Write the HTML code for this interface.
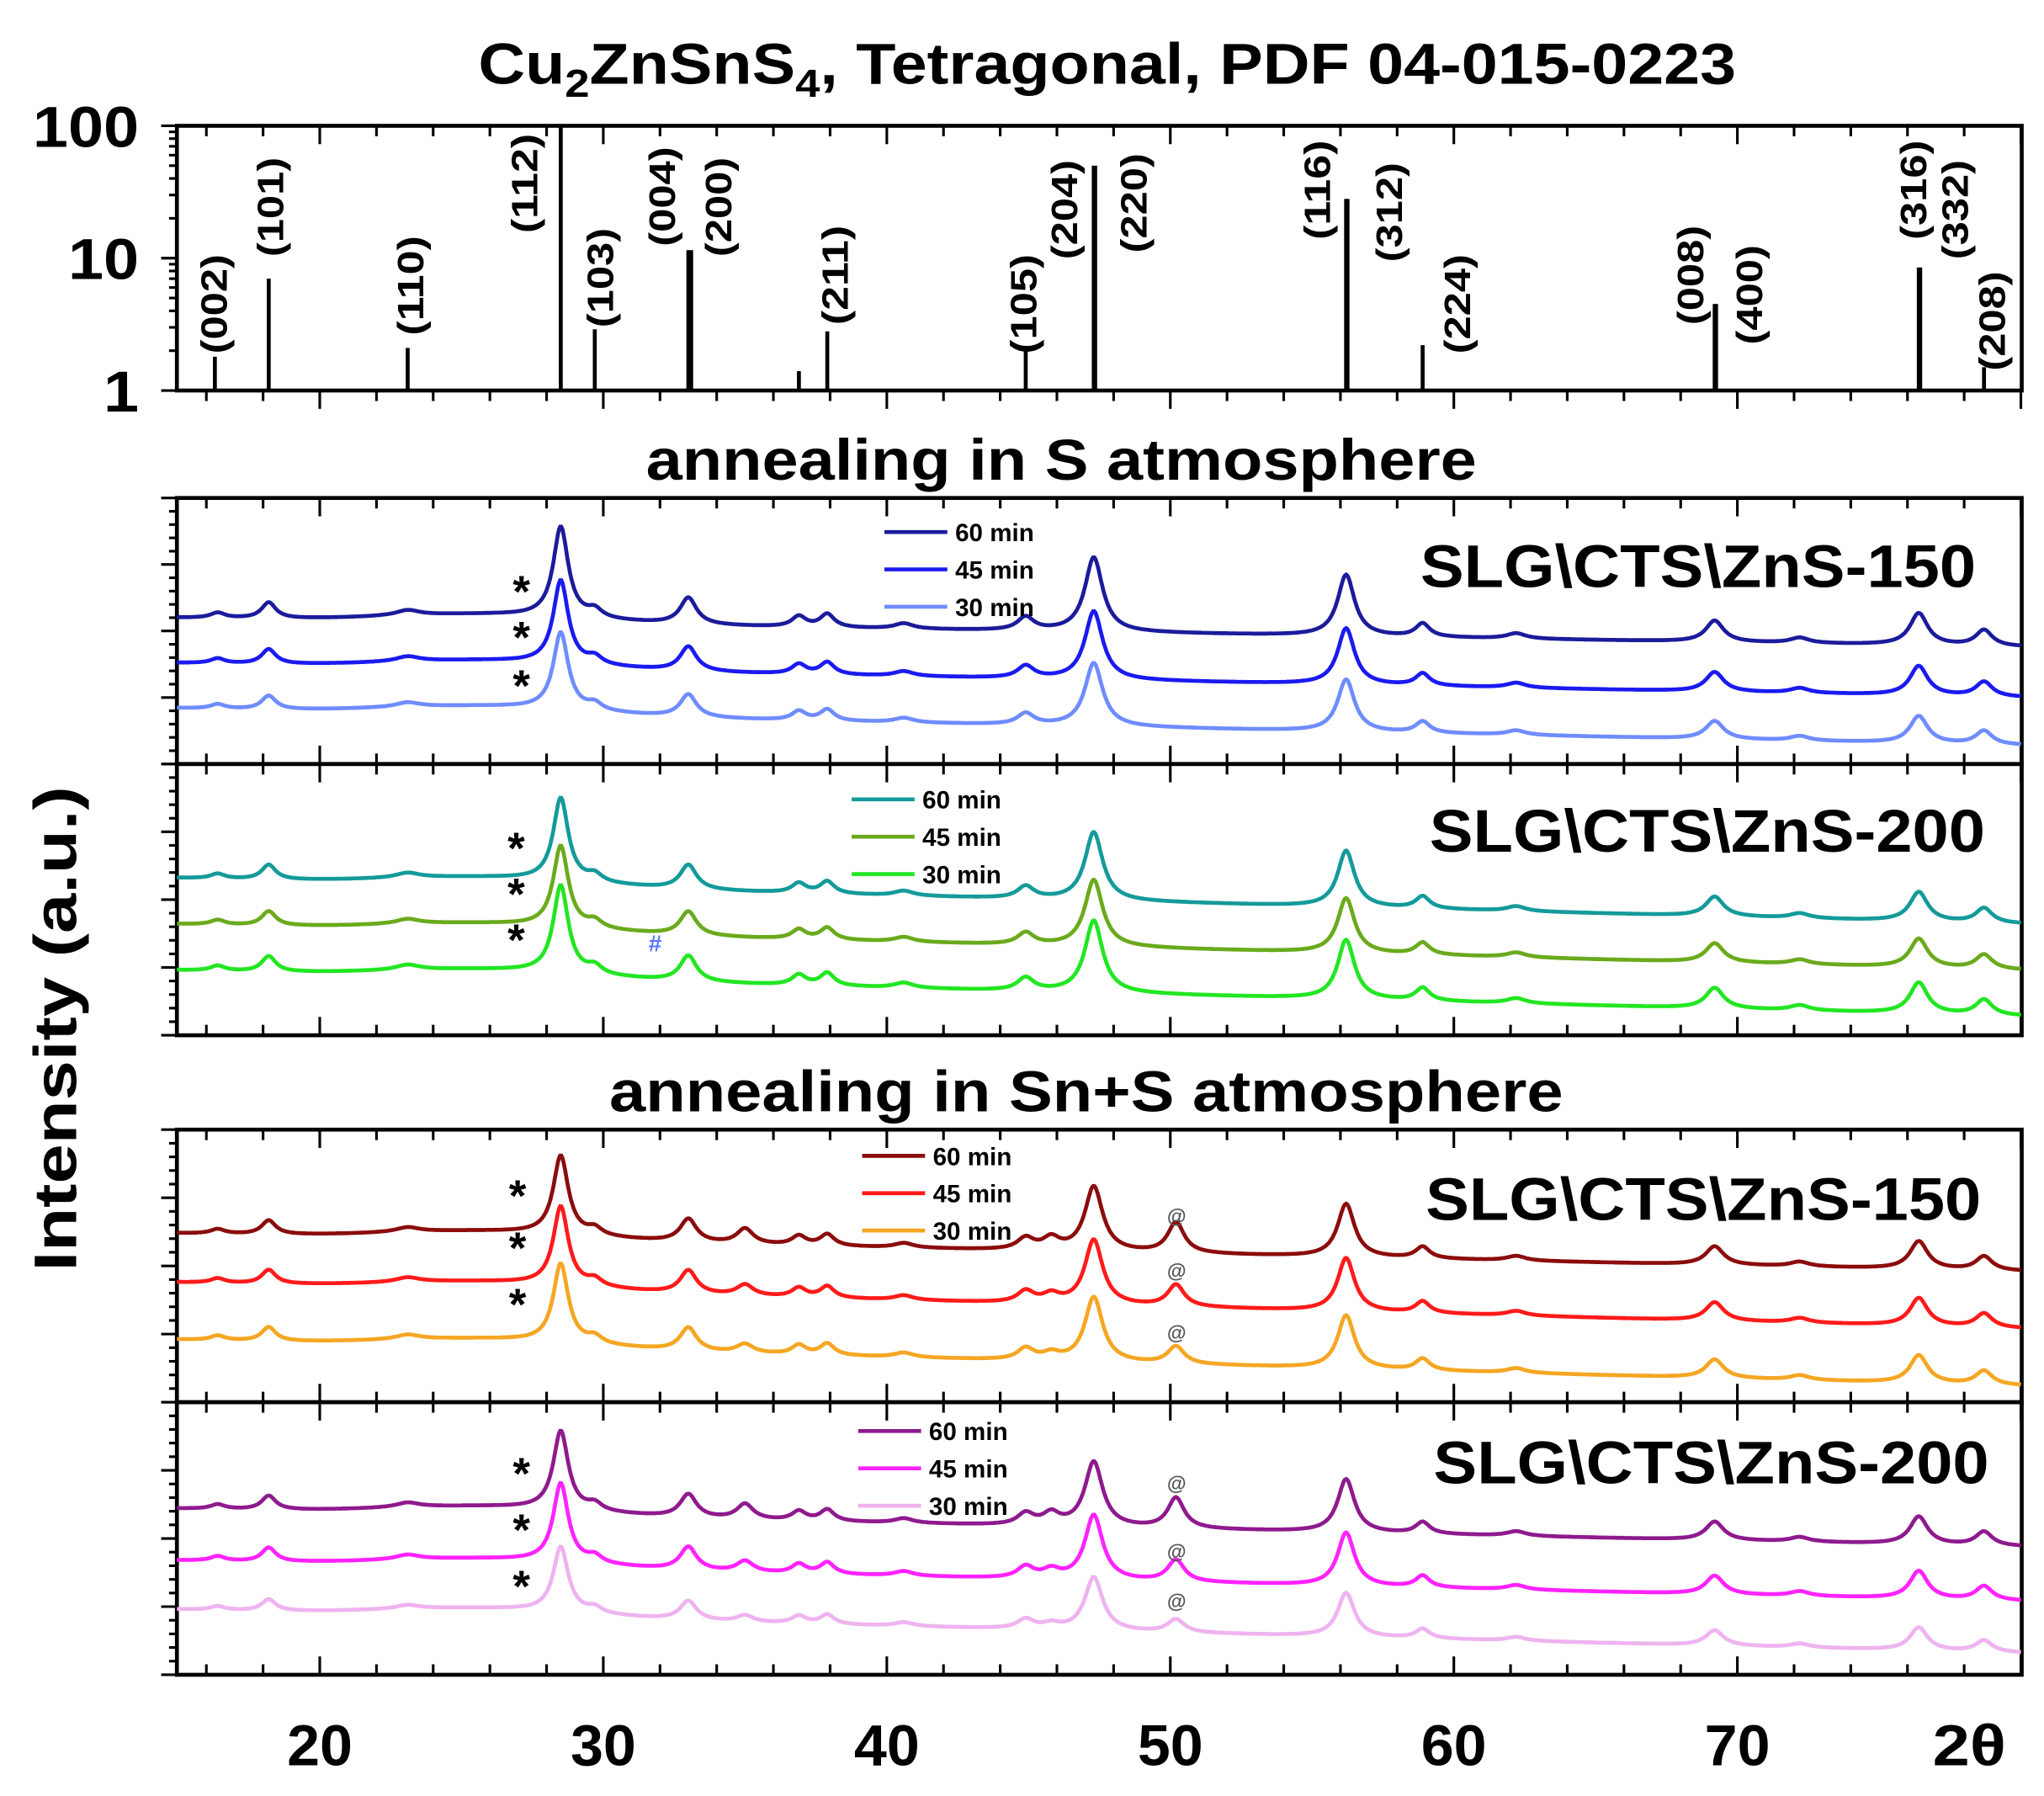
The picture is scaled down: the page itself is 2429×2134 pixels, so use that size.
<!DOCTYPE html>
<html><head><meta charset="utf-8"><style>
html,body{margin:0;padding:0;background:#fff;}
svg{display:block;font-family:"Liberation Sans",sans-serif;font-weight:bold;}
</style></head><body>
<svg id="chart" width="2429" height="2134" viewBox="0 0 1560 1370.5" preserveAspectRatio="none" xmlns="http://www.w3.org/2000/svg">
<rect x="0" y="0" width="1560" height="1371" fill="#fff"/>
<text x="845" y="64" font-size="44" text-anchor="middle" textLength="960" lengthAdjust="spacingAndGlyphs">Cu<tspan font-size="30" dy="10">2</tspan><tspan dy="-10">ZnSnS</tspan><tspan font-size="30" dy="10">4</tspan><tspan dy="-10">, Tetragonal, PDF 04-015-0223</tspan></text>
<text x="810" y="366" font-size="44" text-anchor="middle" textLength="634" lengthAdjust="spacingAndGlyphs">annealing in S atmosphere</text>
<text x="829" y="848" font-size="44" text-anchor="middle" textLength="728" lengthAdjust="spacingAndGlyphs">annealing in Sn+S atmosphere</text>
<text transform="translate(58,785) rotate(-90)" font-size="46" text-anchor="middle" textLength="370" lengthAdjust="spacingAndGlyphs">Intensity (a.u.)</text>
<g id="layer"></g>
</svg>
<script>
// ---- data ----
const xTicks = [20,30,40,50,60,70];
const xTickLabels = ["20","30","40","50","60","70"];
const refHkl = ["(002)","(101)","(110)","(112)","(103)","(004)","(200)","","(211)","(105)","(204)","(220)","(116)","(312)","(224)","(008)","(400)","(316)","(332)","(208)"];
const refPos = [16.3,18.2,23.1,28.5,29.7,33.0,33.1,36.9,37.9,44.9,47.3,47.35,56.2,56.25,58.9,69.2,69.25,76.4,76.45,78.7];
const refInt = [1.8,7,2.1,100,2.9,11.5,11.5,1.4,2.8,2.1,50,50,28,28,2.2,4.5,4.5,8.5,8.5,1.5];
const refLogTicks = [1,10,100];
// common CZTS peaks (2theta) and relative heights
const peakPos = [16.4,18.2,23.1,28.5,29.7,33.0,36.9,37.9,40.6,44.9,47.3,56.2,58.9,62.2,69.2,72.2,76.4,78.7];
const peakH   = [2,6,2,34,3,10,4,5,2,5,28,23,5,2,8,2,12,6];
const peakW   = [0.3,0.3,0.5,0.32,0.3,0.35,0.3,0.3,0.4,0.35,0.38,0.36,0.3,0.4,0.38,0.4,0.38,0.35];
// extra Sn+S phase peaks (SnS2 / @)
const extraPos = [35.0,45.8,50.2];
const extraH = [4,3,8];
const seriesNames = ["60 min","45 min","30 min"];
// per panel: baseline start, baseline end, peak scale, extra scale
const p1Start=[55,38,21], p1End=[44,25,7], p1Scale=[1.0,0.92,0.85], p1Extra=[0,0,0];
const p2Start=[58,41,24], p2End=[41,24,7], p2Scale=[0.9,0.88,0.95], p2Extra=[0,0,0];
const p3Start=[62,44,23], p3End=[48,27,6], p3Scale=[0.85,0.85,0.85], p3Extra=[1.4,1.0,0.8];
const p4Start=[61,42,24], p4End=[47,27,8], p4Scale=[0.85,0.85,0.7], p4Extra=[1.4,1.0,0.6];

// ---- layout ----
const L=135,R=1543;
const X0=14.96,X1=80.03;
const sx=v=>L+(v-X0)/(X1-X0)*(R-L);
const NS="http://www.w3.org/2000/svg";
const layer=document.getElementById('layer');
function mk(tag,attrs,parent){const e=document.createElementNS(NS,tag);for(const k in attrs)e.setAttribute(k,attrs[k]);(parent||layer).appendChild(e);return e;}

function xTicksDraw(top,bottom,g,outward){
  for(let v=16;v<=80;v+=2){
    const major=v%10===0;const x=sx(v);if(x>R)continue;
    const len=major?14:8;
    const a=mk('line',{x1:x,x2:x,y1:bottom,y2:outward?bottom+len:bottom-len,stroke:'#000','stroke-width':2},g);
    
    const b=mk('line',{x1:x,x2:x,y1:top,y2:top+len,stroke:'#000','stroke-width':2},g);
    
  }
}
function frame(top,bottom,name,outward){
  const g=mk('g',{});
  
  
  const r=mk('rect',{x:L,y:top,width:R-L,height:bottom-top,fill:'none',stroke:'#000','stroke-width':3},g);
  
  xTicksDraw(top,bottom,g,outward);
  return g;
}

// ---- reference panel ----
const rT=96,rB=298;
const sy=v=>rB-(Math.log10(v)/2)*(rB-rT);
const rg=frame(rT,rB,'reference-panel',true);
for(let d=0;d<2;d++)for(let m=1;m<=10;m++){const v=Math.pow(10,d)*m;const y=sy(v);
  const t=mk('line',{x1:L,x2:L-(m===1||m===10?12:6),y1:y,y2:y,stroke:'#000','stroke-width':2},rg);
  }
refLogTicks.forEach(v=>{const s=String(v);const t=mk('text',{x:106,y:sy(v)+16,'font-size':44,'text-anchor':'end',textLength:s.length*27,lengthAdjust:'spacingAndGlyphs'},rg);t.textContent=s;
  });
refPos.forEach((p,i)=>{const l=mk('line',{x1:sx(p),x2:sx(p),y1:rB,y2:sy(refInt[i]),stroke:'#000','stroke-width':3},rg);
  });
const hklX=[163,206,313,400,458,505,548,0,637,781,812,865,1005,1060,1112,1290,1335,1460,1492,1520];
const hklY=[232,158,218,140,212,150,158,0,210,232,160,155,145,162,232,210,225,145,160,245];
refHkl.forEach((h,i)=>{if(!h)return;const t=mk('text',{transform:`translate(${hklX[i]+10},${hklY[i]}) rotate(-90)`,'font-size':28,'text-anchor':'middle',textLength:76,lengthAdjust:'spacingAndGlyphs'},rg);
  t.textContent=h;});

// ---- XRD panels ----
function profile(x,scale,extra){
  let s=0;
  for(let i=0;i<peakPos.length;i++){const d=(x-peakPos[i])/peakW[i];s+=scale*peakH[i]/(1+d*d);}
  for(let i=0;i<extraPos.length;i++){const d=(x-extraPos[i])/0.35;s+=extra*extraH[i]/(1+d*d);}
  return s;
}
function panel(top,bottom,name,starts,ends,scales,extras,colors,legX,legY,label,labX,labY,starX,starYs,atYs){
  const g=frame(top,bottom,name,false);
  const yy=v=>bottom-v/100*(bottom-top);
  for(let k=0;k<=20;k++){const y=top+k*(bottom-top)/20;
    const t=mk('line',{x1:L,x2:L-(k%5===0?12:6),y1:y,y2:y,stroke:'#000','stroke-width':2},g);
    }
  const cp=mk('clipPath',{id:'c'+name},g);
  mk('rect',{x:L,y:top,width:R-L,height:bottom-top},cp);
  for(let s=0;s<3;s++){
    let d='';
    for(let x=X0;x<=X1;x+=0.04){
      const base=starts[s]+(ends[s]-starts[s])*(x-X0)/(X1-X0)+3*Math.exp(-Math.pow((x-26)/5,2));
      const v=base+profile(x,scales[s],extras[s]);
      d+=(d?'L':'M')+sx(x).toFixed(1)+','+yy(v).toFixed(1);
    }
    const p=mk('path',{d:d,fill:'none',stroke:colors[s],'stroke-width':3,'clip-path':`url(#c${name})`},g);
    
    
    const ll=mk('line',{x1:legX,x2:legX+48,y1:legY+s*28.5,y2:legY+s*28.5,stroke:colors[s],'stroke-width':3},g);
    
    const lt=mk('text',{x:legX+54,y:legY+s*28.5+7,'font-size':19},g);lt.textContent=seriesNames[s];
    
    const st=mk('text',{x:starX,y:starYs[s]+14,'font-size':34,'text-anchor':'middle'},g);st.textContent='*';
    
    if(atYs){const at=mk('text',{x:898,y:atYs[s]+5,'font-size':15,'text-anchor':'middle',fill:'#555'},g);at.textContent='@';
      }
  }
  const lb=mk('text',{x:labX,y:labY,'font-size':46,'text-anchor':'end',textLength:424,lengthAdjust:'spacingAndGlyphs'},g);lb.textContent=label;
  
  return g;
}
panel(380,583,'s150',p1Start,p1End,p1Scale,p1Extra,['#1b1b9c','#1a1af0','#6f8cff'],675,406,'SLG\\CTS\\ZnS-150',1508,448,398,[449,484,521],null);
const g3=panel(583,790,'s200',p2Start,p2End,p2Scale,p2Extra,['#149a9a','#6aaa1c','#22e622'],650,610,'SLG\\CTS\\ZnS-200',1515,650,394,[645,680,715],null);
const hs=mk('text',{x:500,y:726,'font-size':18,fill:'#5577ff','text-anchor':'middle'},g3);hs.textContent='#';

panel(862,1070,'sns150',p3Start,p3End,p3Scale,p3Extra,['#8b0c0c','#ff1a1a','#f5a623'],658,882,'SLG\\CTS\\ZnS-150',1512,931,395,[910,950,993],[928,970,1017]);
panel(1070,1278,'sns200',p4Start,p4End,p4Scale,p4Extra,['#8e1a8e','#ff22ff','#efb3f0'],655,1092,'SLG\\CTS\\ZnS-200',1518,1132,398,[1122,1165,1208],[1132,1184,1222]);

// x tick labels
xTicks.forEach((v,i)=>{const t=mk('text',{x:sx(v),y:1347,'font-size':44,'text-anchor':'middle',textLength:50,lengthAdjust:'spacingAndGlyphs'});t.textContent=xTickLabels[i];
  });
const tt=mk('text',{x:1503,y:1347,'font-size':44,'text-anchor':'middle',textLength:56,lengthAdjust:'spacingAndGlyphs'});tt.textContent='2θ';

</script>
</body></html>
